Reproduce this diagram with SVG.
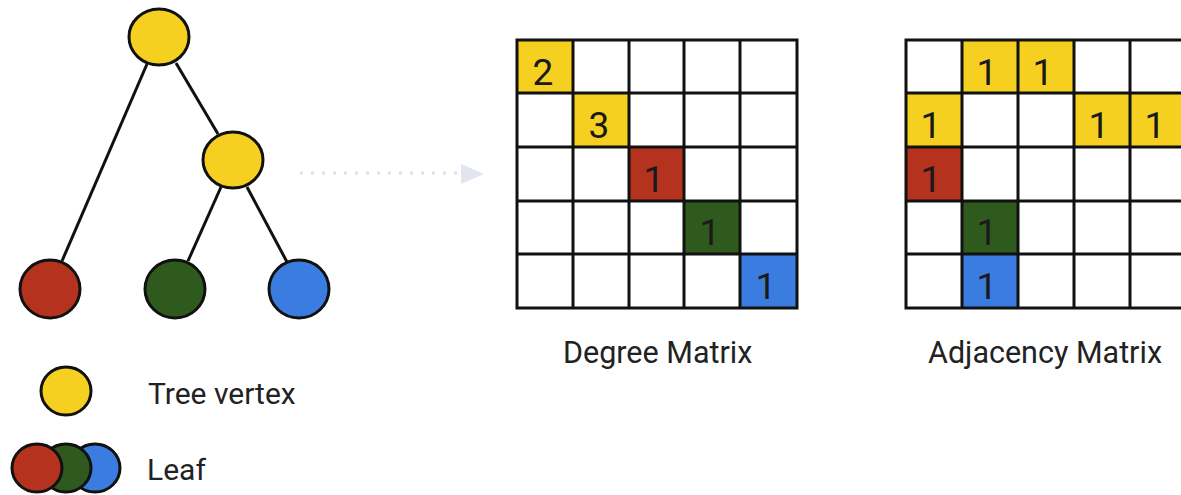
<svg xmlns="http://www.w3.org/2000/svg" width="1181" height="495" viewBox="0 0 1181 495">
<style>
.node{stroke:#111;stroke-width:3}
.y{fill:#f5d020}.r{fill:#b5321f}.g{fill:#2e5a1d}.b{fill:#3b7ce0}
.edge{stroke:#111;stroke-width:3;fill:none}
.grid{stroke:#111;stroke-width:3;fill:none}
.num{font-family:Roboto,"Liberation Sans",sans-serif;font-size:37px;fill:#1a1a1a;text-anchor:middle}
.lbl{font-family:Roboto,"Liberation Sans",sans-serif;font-size:30.5px;fill:#222}
</style>
<rect width="1181" height="495" fill="#fff"/>
<g id="connectors">
<line class="edge" x1="147" y1="64" x2="62" y2="261"/>
<line class="edge" x1="176" y1="63" x2="218" y2="134"/>
<line class="edge" x1="221" y1="187" x2="188" y2="261"/>
<line class="edge" x1="247" y1="187" x2="287" y2="262"/>
<g id="arrow">
<line x1="300" y1="173" x2="458" y2="173" stroke="#dde0ec" stroke-width="3" stroke-dasharray="3,8"/>
<polygon points="461,164 484,174 461,184" fill="#e2e5f0"/>
</g>
</g>
<g id="root"><ellipse class="node y" cx="159" cy="37" rx="30" ry="28"/></g>
<g id="inner"><ellipse class="node y" cx="233" cy="160" rx="30" ry="28"/></g>
<g id="leaf-red"><ellipse class="node r" cx="50" cy="289" rx="30" ry="29"/></g>
<g id="leaf-green"><ellipse class="node g" cx="175" cy="289" rx="30" ry="29"/></g>
<g id="leaf-blue"><ellipse class="node b" cx="299" cy="289" rx="30" ry="29"/></g>

<g id="degree-matrix">
<rect class="y" x="517" y="40" width="56" height="53"/>
<rect class="y" x="573" y="93" width="56" height="54"/>
<rect class="r" x="629" y="147" width="55" height="54"/>
<rect class="g" x="684" y="201" width="56" height="53"/>
<rect class="b" x="740" y="254" width="57" height="54"/>
<path class="grid" d="M517,40H797V308H517Z M573,40V308 M629,40V308 M684,40V308 M740,40V308 M517,93H797 M517,147H797 M517,201H797 M517,254H797"/>
<text class="num" x="543" y="85">2</text>
<text class="num" x="599" y="138">3</text>
<text class="num" x="654" y="192">1</text>
<text class="num" x="710" y="245">1</text>
<text class="num" x="766" y="299">1</text>
</g>

<g id="adjacency-matrix">
<rect class="y" x="962" y="40" width="56" height="53"/>
<rect class="y" x="1018" y="40" width="56" height="53"/>
<rect class="y" x="906" y="93" width="56" height="54"/>
<rect class="y" x="1074" y="93" width="56" height="54"/>
<rect class="y" x="1130" y="93" width="56" height="54"/>
<rect class="r" x="906" y="147" width="56" height="54"/>
<rect class="g" x="962" y="201" width="56" height="53"/>
<rect class="b" x="962" y="254" width="56" height="54"/>
<path class="grid" d="M906,40H1186V308H906Z M962,40V308 M1018,40V308 M1074,40V308 M1130,40V308 M906,93H1186 M906,147H1186 M906,201H1186 M906,254H1186"/>
<text class="num" x="987" y="85">1</text>
<text class="num" x="1043" y="85">1</text>
<text class="num" x="931" y="138">1</text>
<text class="num" x="1099" y="138">1</text>
<text class="num" x="1155" y="138">1</text>
<text class="num" x="931" y="192">1</text>
<text class="num" x="987" y="245">1</text>
<text class="num" x="987" y="299">1</text>
</g>

<text class="lbl" x="563" y="363">Degree Matrix</text>
<text class="lbl" x="928" y="363">Adjacency Matrix</text>

<g id="legend-tree-vertex">
<ellipse class="node y" cx="66" cy="391" rx="25" ry="24"/>
<text class="lbl" x="148" y="404" style="font-size:30px">Tree vertex</text>
</g>
<g id="legend-leaf">
<ellipse class="node b" cx="95" cy="468" rx="25" ry="24"/>
<ellipse class="node g" cx="66" cy="468" rx="25" ry="24"/>
<ellipse class="node r" cx="37" cy="468" rx="25" ry="24"/>
<text class="lbl" x="147" y="480" style="font-size:30px">Leaf</text>
</g>
</svg>
